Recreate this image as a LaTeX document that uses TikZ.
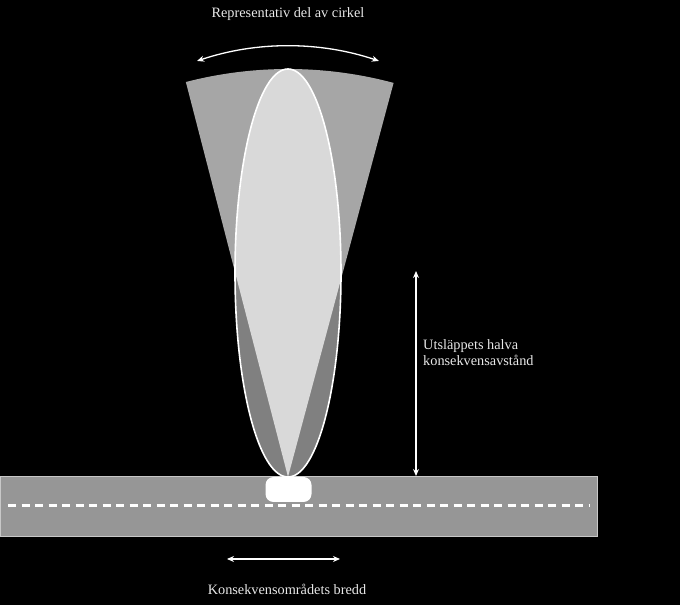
\documentclass[tikz,border=0pt]{standalone}
\usepackage{fontspec}
\setmainfont{Liberation Serif}
\usetikzlibrary{arrows.meta,calc}
\definecolor{fanmid}{HTML}{A6A6A6}
\definecolor{fandark}{HTML}{808080}
\definecolor{fanlight}{HTML}{D9D9D9}
\definecolor{roadgray}{HTML}{969696}
\definecolor{roadedge}{HTML}{C8C8C8}
\definecolor{txt}{HTML}{E8E8E8}
\tikzset{
  lbl/.style={text=txt, font=\fontsize{14.3}{16.5}\selectfont, inner sep=0pt},
  dimarrow/.style={white, line width=1.3pt, {Stealth[length=7pt,width=6pt]}-{Stealth[length=7pt,width=6pt]}},
}
\begin{document}
\begin{tikzpicture}[x=1pt,y=1pt]
\fill[black] (0,0) rectangle (680,605);
\useasboundingbox (0,0) rectangle (680,605);
% road
\draw[fill=roadgray, draw=roadedge, line width=1pt] (0,68) rectangle (597,128);
\draw[white, line width=3pt, dash pattern=on 8pt off 5.5pt] (8,99) -- (590,99);
\node[fill=white, rounded corners=8pt, minimum width=46pt, minimum height=25pt, inner sep=0pt] (blob) at (288.5,115.5) {};
% fan
\coordinate (apex) at (288,128);
\def\fanpath{(apex) -- ++(104.5:408) arc[start angle=104.5, end angle=75, radius=408] -- cycle}
\fill[fanmid] \fanpath;
\fill[fandark] (288,332) ellipse[x radius=53, y radius=204];
\begin{scope}
  \clip \fanpath;
  \fill[fanlight] (288,332) ellipse[x radius=53, y radius=204];
\end{scope}
\draw[white, line width=1.6pt] (288,332) ellipse[x radius=53, y radius=204];
% arc arrow
\coordinate (arcc) at (288,275.5);
\coordinate (arcL) at ($(arcc)+(108.7:283.5)$);
\draw[dimarrow] (arcL) arc[start angle=108.7, end angle=71.3, radius=283.5];
\node[lbl] (top) at (288,591) {Representativ del av cirkel};
% vertical arrow
\coordinate (vtop) at (416,334);
\coordinate (vbot) at (416,129);
\draw[dimarrow] (vtop) -- (vbot);
\node[lbl, anchor=north west, align=left] (half) at (423,266) {Utsläppets halva\\konsekvensavstånd};
% horizontal arrow
\coordinate (hl) at (227,46);
\coordinate (hr) at (340,46);
\draw[dimarrow] (hl) -- (hr);
\node[lbl] (width) at (287,16) {Konsekvensområdets bredd};
\end{tikzpicture}
\end{document}
